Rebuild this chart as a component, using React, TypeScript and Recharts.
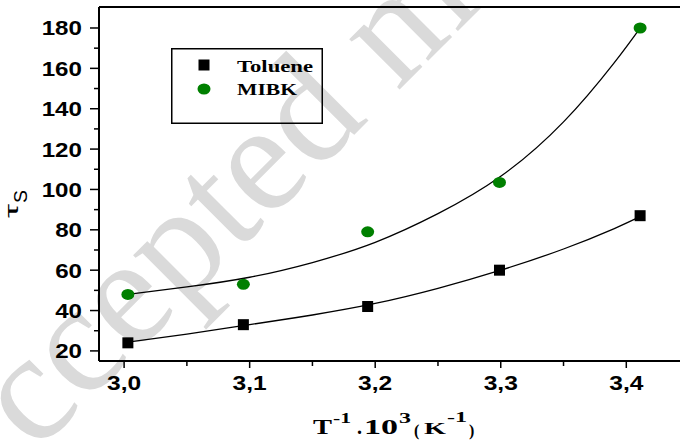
import React from 'react';
import {
  ComposedChart, Line, Scatter, XAxis, YAxis, ReferenceLine,
} from 'recharts';

// measured points
const tolueneX = [3.003, 3.095, 3.194, 3.299, 3.411];
const tolueneY = [24, 33, 42, 60, 87];
const mibkX = [3.003, 3.095, 3.194, 3.299, 3.411];
const mibkY = [48, 53, 79, 103.5, 180];

// fitted curves
const fitX = [3.003, 3.05, 3.1, 3.15, 3.2, 3.25, 3.3, 3.35, 3.39, 3.411];
const tolueneFit = [24.3, 28.3, 33.0, 37.8, 43.5, 51.0, 60.0, 70.5, 80.5, 86.5];
const mibkFit = [48.0, 51.7, 56.5, 63.8, 73.8, 88.0, 106.5, 133.5, 162.5, 180.0];

const xTicks = [3.0, 3.05, 3.1, 3.15, 3.2, 3.25, 3.3, 3.35, 3.4];
const yTicks = [20, 30, 40, 50, 60, 70, 80, 90, 100, 110, 120, 130, 140, 150, 160, 170, 180];

const seriesNames = ['Toluene', 'MIBK'];
const GREEN = '#008000';

const toPts = (xs: number[], ys: number[]) => xs.map((x, i) => ({ x, y: ys[i] }));
const tolPts = toPts(tolueneX, tolueneY);
const mibkPts = toPts(mibkX, mibkY);
const tolFitPts = toPts(fitX, tolueneFit);
const mibkFitPts = toPts(fitX, mibkFit);

const SANS = '"Liberation Sans", Arial, sans-serif';
const SERIF = '"Liberation Serif", "Times New Roman", serif';

const textWidth = (s: string, fs: number) => {
  let w = 0;
  for (const c of s) w += c === ',' ? 0.278 : 0.556;
  return w * fs;
};

const YTick = (props: any) => {
  const { x, y, payload } = props;
  const v = payload.value;
  const major = v % 20 === 0;
  const s = String(v);
  return (
    <g>
      <line x1={x} x2={x - (major ? 9 : 5)} y1={y} y2={y} stroke="#000" strokeWidth={1.5} />
      {major && (
        <text x={x - 17} y={y + 7.5} textAnchor="end" fontFamily={SANS} fontWeight="bold" fontSize={21}
          fill="#000" textLength={textWidth(s, 21) * 1.15} lengthAdjust="spacingAndGlyphs">{s}</text>
      )}
    </g>
  );
};

const XTick = (props: any) => {
  const { x, y, payload } = props;
  const v = payload.value;
  const major = Math.round(v * 100) % 10 === 0;
  const s = v.toFixed(1).replace('.', ',');
  return (
    <g>
      <line x1={x} x2={x} y1={y} y2={y + (major ? 7 : 5)} stroke="#000" strokeWidth={1.5} />
      {major && (
        <text x={x} y={y + 29} textAnchor="middle" fontFamily={SANS} fontWeight="bold" fontSize={21}
          fill="#000" textLength={textWidth(s, 21) * 1.17} lengthAdjust="spacingAndGlyphs">{s}</text>
      )}
    </g>
  );
};

const XLabel = () => (
  <g fontFamily={SERIF} fontWeight="bold" fill="#000">
    <text x={313} y={434} fontSize={20} textLength={19} lengthAdjust="spacingAndGlyphs">T</text>
    <text x={333} y={423} fontSize={14} textLength={18} lengthAdjust="spacingAndGlyphs">-1</text>
    <text x={357} y={434} fontSize={20}>.</text>
    <text x={364} y={434} fontSize={20} textLength={34} lengthAdjust="spacingAndGlyphs">10</text>
    <text x={399} y={423} fontSize={15} textLength={12} lengthAdjust="spacingAndGlyphs">3</text>
    <text x={414} y={436} fontSize={16}>(</text>
    <text x={424} y={434} fontSize={17} textLength={22} lengthAdjust="spacingAndGlyphs">K</text>
    <text x={447} y={422} fontSize={14} textLength={20} lengthAdjust="spacingAndGlyphs">-1</text>
    <text x={469} y={436} fontSize={16}>)</text>
  </g>
);

const YLabel = () => (
  <g fontFamily={SANS} fill="#000">
    <text x={18} y={218} fontSize={19} transform="rotate(-90, 18, 218)" textLength={14} lengthAdjust="spacingAndGlyphs">τ</text>
    <text x={27} y={203} fontSize={19} transform="rotate(-90, 27, 203)" textLength={13} lengthAdjust="spacingAndGlyphs">S</text>
  </g>
);

const SquareShape = (p: any) => (
  <rect x={p.cx - 5.5} y={p.cy - 5.5} width={11} height={11} fill="#000" />
);
const CircleShape = (p: any) => (
  <ellipse cx={p.cx} cy={p.cy} rx={6.5} ry={5.5} fill={GREEN} />
);

const LegendBox = () => (
  <svg width={152} height={76} style={{ position: 'absolute', left: 171, top: 48 }}>
    <rect x={0.75} y={0.75} width={150.5} height={74.5} fill="none" stroke="#000" strokeWidth={1.5} />
    <rect x={27.5} y={11.5} width={11} height={11} fill="#000" />
    <ellipse cx={33} cy={41} rx={6.5} ry={5.5} fill={GREEN} />
    <text x={66} y={23.5} fontFamily={SERIF} fontWeight="bold" fontSize={17.5} textLength={76} lengthAdjust="spacingAndGlyphs">{seriesNames[0]}</text>
    <text x={66} y={46.5} fontFamily={SERIF} fontWeight="bold" fontSize={17.5} textLength={60} lengthAdjust="spacingAndGlyphs">{seriesNames[1]}</text>
  </svg>
);

export default function App() {
  return (
    <div style={{ position: 'absolute', left: 0, top: 0, width: 680, height: 446, overflow: 'hidden', background: '#fff' }}>
      <svg width={680} height={446} style={{ position: 'absolute', left: 0, top: 0 }}>
        <text x={-44} y={533} transform="rotate(-45, -44, 533)" fontFamily={SERIF} fontSize={155} fill="#dadada">Accepted manuscript</text>
      </svg>
      <div style={{ position: 'absolute', left: 0, top: 0 }}>
        <ComposedChart width={702} height={446} margin={{ top: 7, right: 0, bottom: 0, left: 0 }}>
          <XAxis
            type="number" dataKey="x" domain={[2.98, 3.4603]} allowDataOverflow ticks={xTicks} interval={0}
            height={85} tickSize={0} tickMargin={0} tick={<XTick />}
            axisLine={{ stroke: '#000', strokeWidth: 2 }} label={<XLabel />}
          />
          <YAxis
            type="number" dataKey="y" domain={[15, 190.4]} allowDataOverflow ticks={yTicks} interval={0}
            width={99} tickSize={0} tickMargin={0} tick={<YTick />}
            axisLine={{ stroke: '#000', strokeWidth: 2 }} label={<YLabel />}
          />
          <ReferenceLine y={190.4} stroke="#000" strokeWidth={2} />
          <Line data={tolFitPts} dataKey="y" type="natural" stroke="#000" strokeWidth={1.3} dot={false} isAnimationActive={false} name="Toluene fit" />
          <Line data={mibkFitPts} dataKey="y" type="natural" stroke="#000" strokeWidth={1.3} dot={false} isAnimationActive={false} name="MIBK fit" />
          <Scatter data={tolPts} dataKey="y" name={seriesNames[0]} shape={SquareShape} isAnimationActive={false} />
          <Scatter data={mibkPts} dataKey="y" name={seriesNames[1]} shape={CircleShape} isAnimationActive={false} />
        </ComposedChart>
      </div>
      <LegendBox />
    </div>
  );
}
